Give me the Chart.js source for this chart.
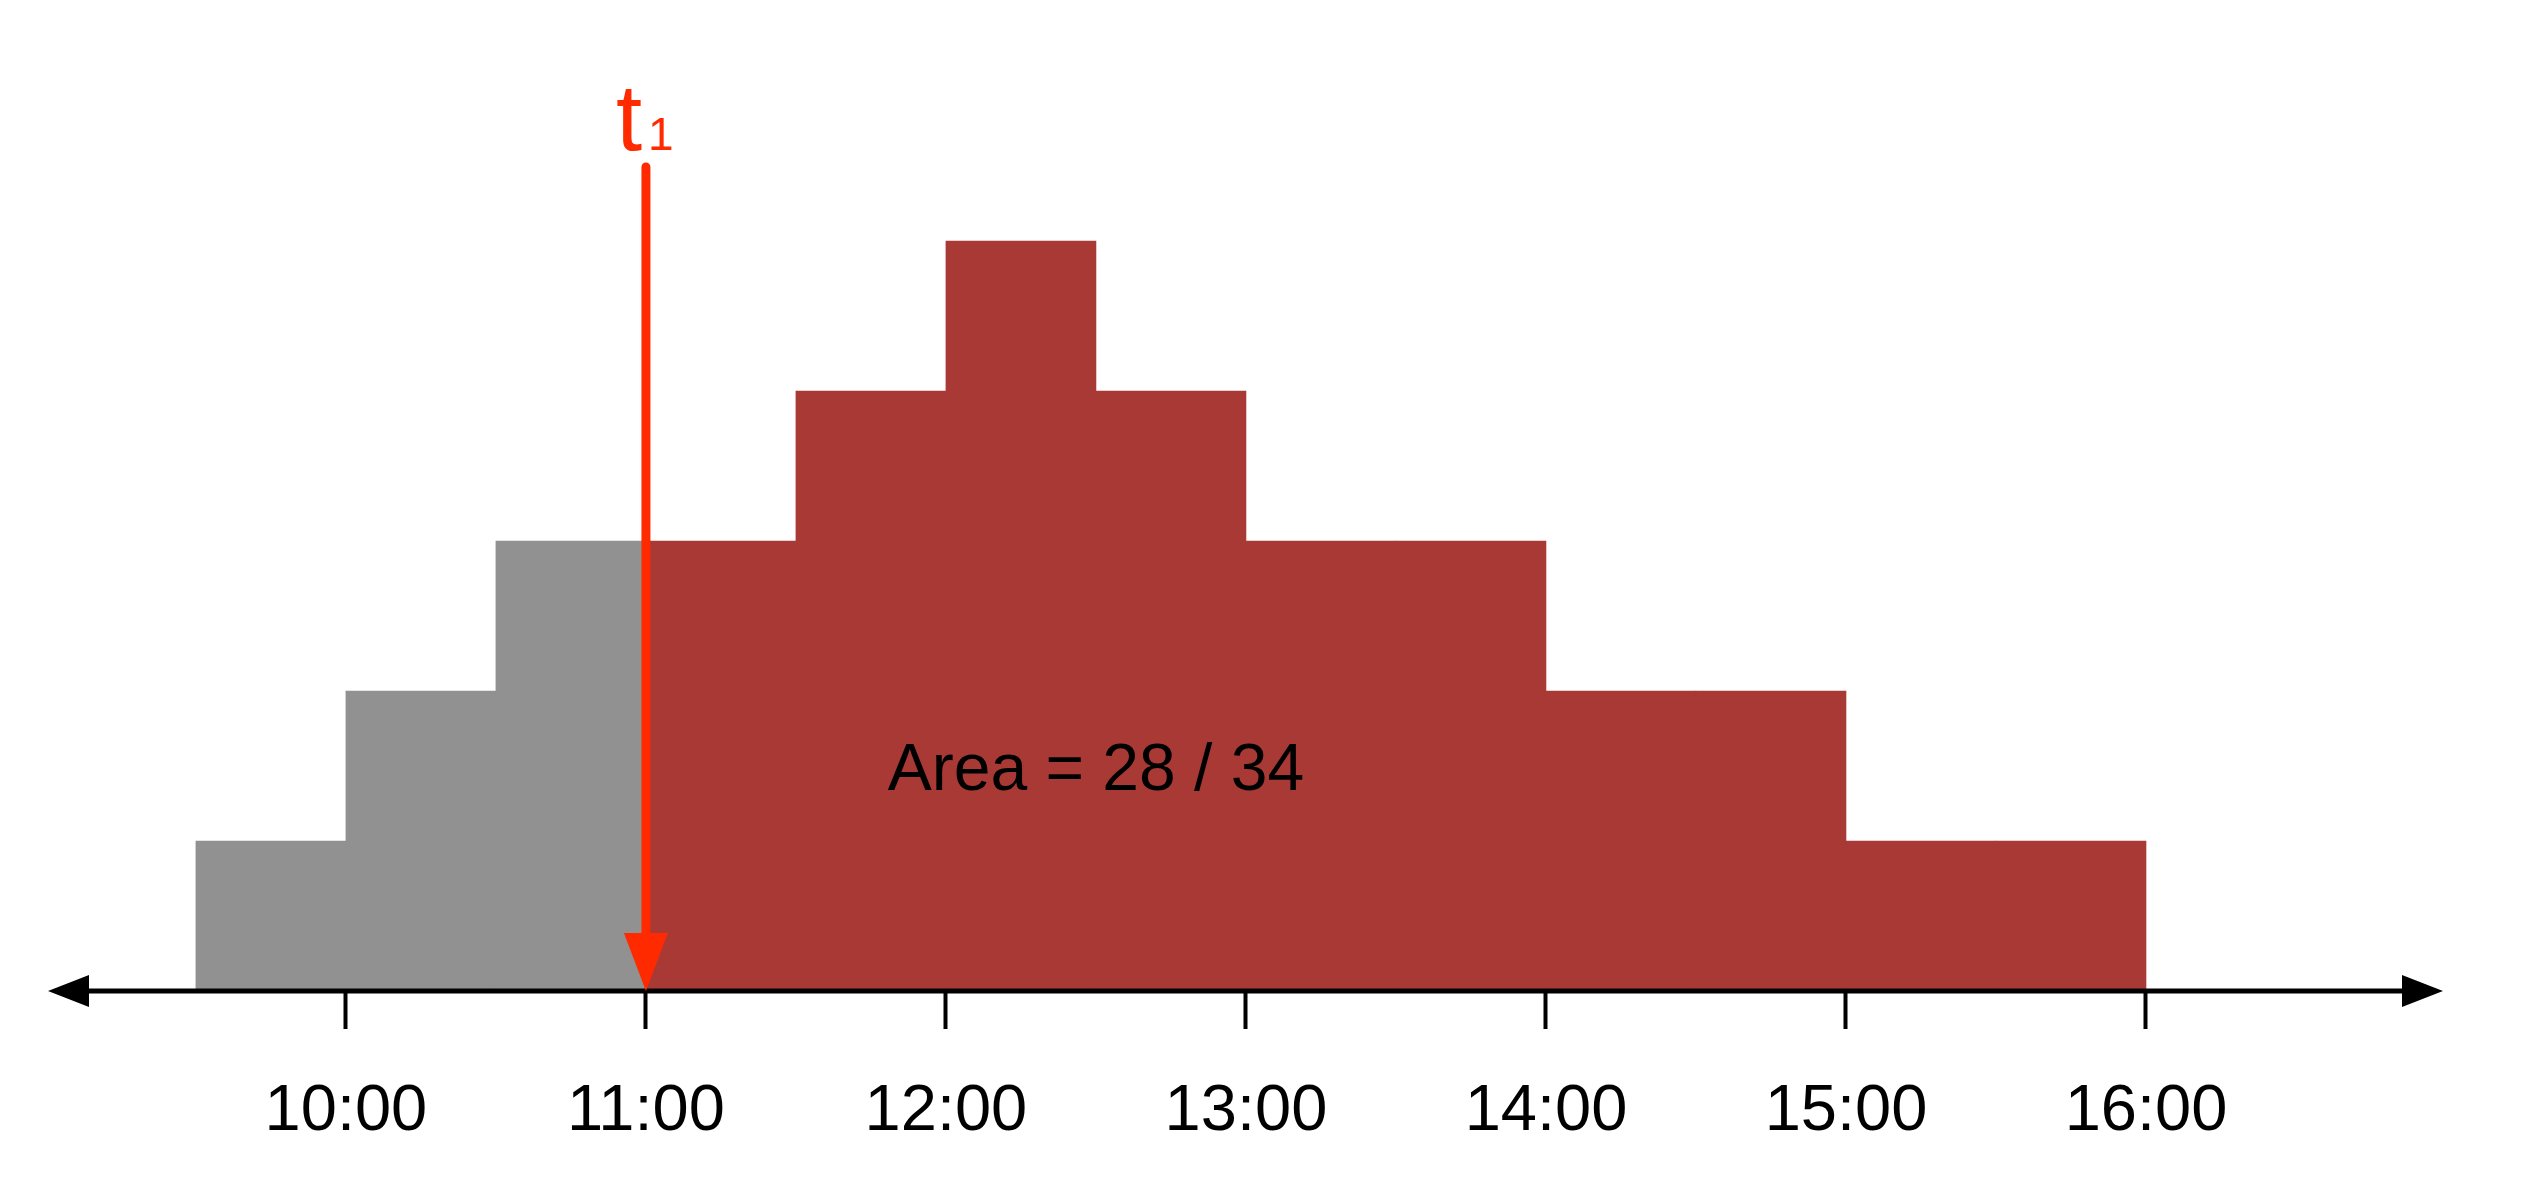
<!DOCTYPE html>
<html lang="en">

<head>
    <meta charset="UTF-8">
    <title>Area after t1</title>
    <script src="https://cdn.jsdelivr.net/npm/chart.js"></script>
    <style>
        body { margin: 0; background: #fff; overflow: hidden; }
        .chart-box { width: 2537px; height: 1204px; }
    </style>
</head>

<body>
    <div class="chart-box">
        <canvas id="areaChart"></canvas>
    </div>

    <script>
        // half-hour bins (start hour) and their heights
        const binStart = [9.5, 10, 10.5, 11, 11.5, 12, 12.5, 13, 13.5, 14, 14.5, 15, 15.5];
        const counts = [1, 2, 3, 3, 4, 5, 4, 3, 3, 2, 2, 1, 1];
        const hourTicks = [10, 11, 12, 13, 14, 15, 16];
        const tickLabels = ["10:00", "11:00", "12:00", "13:00", "14:00", "15:00", "16:00"];
        const t1 = 11;

        const GRAY = "#919191";
        const RED = "#a83934";
        const MARK = "#ff2a00";
        const FONT = "'Liberation Sans', Arial, Helvetica, sans-serif";

        let total = 0, after = 0;
        for (let i = 0; i < counts.length; i++) {
            total += counts[i];
            if (binStart[i] >= t1) after += counts[i];
        }

        // axis line with arrow heads at both ends
        const arrowAxis = {
            id: "arrowAxis",
            afterDatasetsDraw(chart) {
                const ctx = chart.ctx;
                const area = chart.chartArea;
                const y = chart.scales.y.getPixelForValue(0);
                ctx.save();
                ctx.strokeStyle = "#000";
                ctx.fillStyle = "#000";
                ctx.lineWidth = 5;
                ctx.beginPath();
                ctx.moveTo(area.left + 40, y);
                ctx.lineTo(area.right - 40, y);
                ctx.stroke();
                ctx.beginPath();
                ctx.moveTo(area.left, y);
                ctx.lineTo(area.left + 41, y - 16);
                ctx.lineTo(area.left + 41, y + 16);
                ctx.closePath();
                ctx.fill();
                ctx.beginPath();
                ctx.moveTo(area.right, y);
                ctx.lineTo(area.right - 41, y - 16);
                ctx.lineTo(area.right - 41, y + 16);
                ctx.closePath();
                ctx.fill();
                ctx.restore();
            }
        };

        // t1 marker arrow and the area label
        const markers = {
            id: "markers",
            afterDraw(chart) {
                const ctx = chart.ctx;
                const xs = chart.scales.x, ys = chart.scales.y;
                const x = xs.getPixelForValue(t1);
                const y0 = ys.getPixelForValue(0);
                ctx.save();
                ctx.strokeStyle = MARK;
                ctx.fillStyle = MARK;
                ctx.lineWidth = 9;
                ctx.lineCap = "round";
                ctx.beginPath();
                ctx.moveTo(x, 167);
                ctx.lineTo(x, y0 - 50);
                ctx.stroke();
                ctx.beginPath();
                ctx.moveTo(x, y0);
                ctx.lineTo(x - 22, y0 - 58);
                ctx.lineTo(x + 22, y0 - 58);
                ctx.closePath();
                ctx.fill();

                ctx.textBaseline = "alphabetic";
                ctx.textAlign = "left";
                ctx.font = "94px " + FONT;
                ctx.fillText("t", x - 30, 150);
                ctx.font = "46px " + FONT;
                ctx.fillText("1", x + 2, 150);

                ctx.fillStyle = "#000";
                ctx.textAlign = "center";
                ctx.font = "66px " + FONT;
                ctx.fillText("Area = " + after + " / " + total,
                    xs.getPixelForValue(12.5), ys.getPixelForValue(1.5) + 24);
                ctx.restore();
            }
        };

        const ctx = document.getElementById("areaChart").getContext("2d");
        new Chart(ctx, {
            type: "bar",
            data: {
                datasets: [{
                    data: binStart.map((s, i) => ({ x: s + 0.25, y: counts[i] })),
                    backgroundColor: binStart.map(s => s < t1 ? GRAY : RED),
                    borderWidth: 0,
                    barPercentage: 1,
                    categoryPercentage: 1
                }]
            },
            options: {
                responsive: true,
                maintainAspectRatio: false,
                animation: false,
                layout: { padding: { top: 91, left: 48, right: 94, bottom: 0 } },
                plugins: {
                    legend: { display: false },
                    tooltip: { enabled: false }
                },
                scales: {
                    x: {
                        type: "linear",
                        min: 9.007,
                        max: 16.99,
                        offset: false,
                        afterBuildTicks: (scale) => {
                            scale.ticks = hourTicks.map(v => ({ value: v }));
                        },
                        afterFit: (scale) => { scale.height = 213; },
                        grid: {
                            display: true,
                            offset: false,
                            drawOnChartArea: false,
                            drawTicks: true,
                            tickLength: 38,
                            tickWidth: 4,
                            tickColor: "#000"
                        },
                        border: { display: false },
                        ticks: {
                            autoSkip: false,
                            maxRotation: 0,
                            padding: 44,
                            color: "#000",
                            font: { family: FONT, size: 65 },
                            callback: (v) => tickLabels[hourTicks.indexOf(v)] || ""
                        }
                    },
                    y: {
                        display: false,
                        min: 0,
                        max: 6
                    }
                }
            },
            plugins: [arrowAxis, markers]
        });
    </script>
</body>

</html>
